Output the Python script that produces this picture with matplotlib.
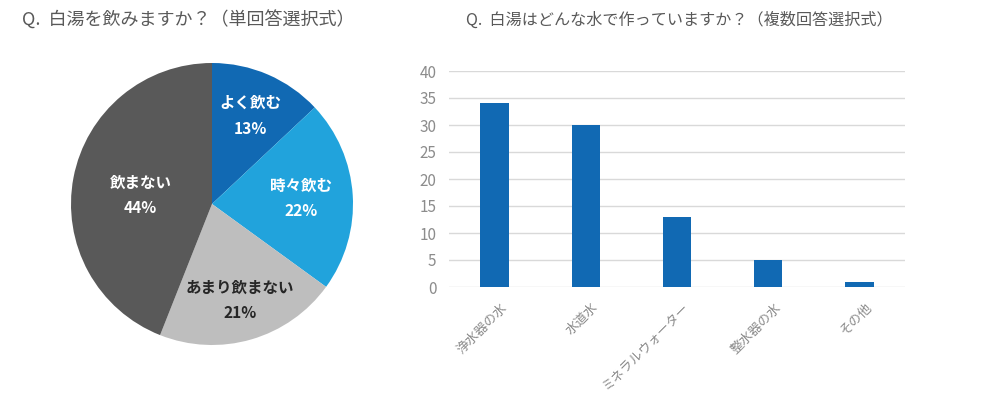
import matplotlib.pyplot as plt
import matplotlib.transforms as mtransforms
import numpy as np

plt.rcParams['font.family'] = ['Noto Sans CJK JP', 'DejaVu Sans']

# 左: 白湯を飲みますか？
pie_labels = ['よく飲む', '時々飲む', 'あまり飲まない', '飲まない']
pie_values = [13, 22, 21, 44]
pie_colors = ['#1169b3', '#21a3dc', '#bebebe', '#595959']
pie_text_colors = ['white', 'white', '#262626', 'white']
pie_text_r = [0.68, 0.63, 0.71, 0.515]

# 右: 白湯はどんな水で作っていますか？
bar_labels = ['浄水器の水', '水道水', 'ミネラルウォーター', '整水器の水', 'その他']
bar_values = [34, 30, 13, 5, 1]

W, H = 1000, 397
fig = plt.figure(figsize=(10, 3.97), dpi=100)
fig.patch.set_facecolor('white')

title_color = '#595959'
fig.text(22 / W, 1 - 20 / H, 'Q.  白湯を飲みますか？（単回答選択式）',
         fontsize=13.0, color=title_color, va='center', ha='left')
fig.text(466 / W, 1 - 20 / H, 'Q.  白湯はどんな水で作っていますか？（複数回答選択式）',
         fontsize=11.6, color=title_color, va='center', ha='left')

# 円グラフ
r_px = 141
cx, cy = 212, 204
ax1 = fig.add_axes([(cx - r_px) / W, 1 - (cy + r_px) / H, 2 * r_px / W, 2 * r_px / H])
wedges, _ = ax1.pie(pie_values, colors=pie_colors, startangle=90, counterclock=False,
                    radius=1.0, wedgeprops=dict(linewidth=0))
ax1.set_xlim(-1, 1)
ax1.set_ylim(-1, 1)
ax1.set_aspect('equal')
ax1.axis('off')

for w, lab, val, tc, rr in zip(wedges, pie_labels, pie_values, pie_text_colors, pie_text_r):
    ang = np.deg2rad((w.theta1 + w.theta2) / 2)
    x, y = rr * np.cos(ang), rr * np.sin(ang)
    if lab == '飲まない':
        y -= 0.035
    ax1.text(x, y, f'{lab}\n{val}%', ha='center', va='center', color=tc,
             fontsize=11.2, fontweight='bold', linespacing=1.75)

# 棒グラフ
x0, x1 = 449, 905
y_top, y_bot = 71, 287
ax2 = fig.add_axes([x0 / W, 1 - y_bot / H, (x1 - x0) / W, (y_bot - y_top) / H])
xpos = np.arange(len(bar_values))
ax2.bar(xpos, bar_values, width=0.31, color='#1169b3', zorder=3)
ax2.set_xlim(-0.5, len(bar_values) - 0.5)
ax2.set_ylim(0, 40)
ax2.set_yticks(np.arange(0, 41, 5))
ax2.grid(axis='y', color='#d9d9d9', linewidth=1, zorder=0)
for s in ax2.spines.values():
    s.set_visible(False)
ax2.tick_params(axis='both', length=0, colors='#8c8c8c', labelsize=11)
ax2.tick_params(axis='y', pad=9)
ax2.set_xticks(xpos)
ax2.set_xticklabels(bar_labels, rotation=45, ha='right', va='top',
                    rotation_mode='anchor', fontsize=9.4, color='#8c8c8c')
ax2.tick_params(axis='x', pad=10)
shift = mtransforms.ScaledTranslation(6 / 100, 0, fig.dpi_scale_trans)
for t in ax2.get_xticklabels():
    t.set_transform(t.get_transform() + shift)

fig.savefig('out.png', dpi=100, facecolor='white')
